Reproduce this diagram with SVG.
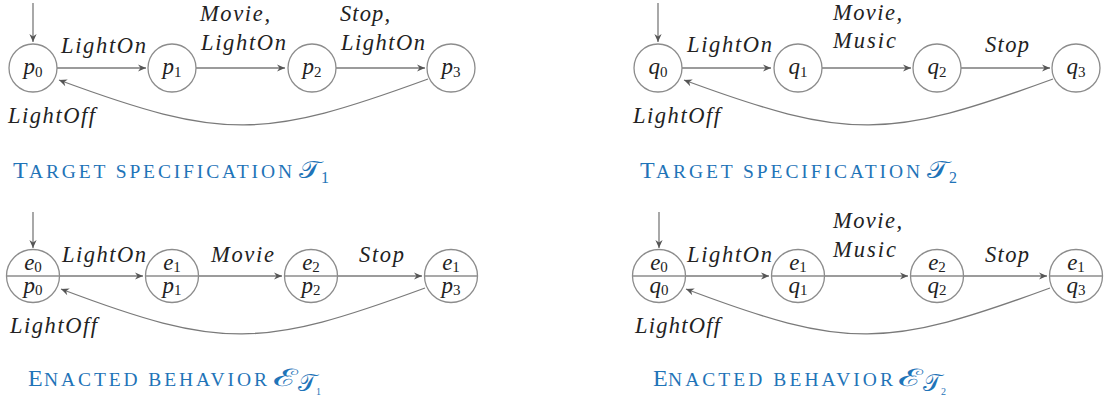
<svg xmlns="http://www.w3.org/2000/svg" width="1109" height="401" viewBox="0 0 1109 401">
<style>
.bg{fill:#ffffff}
.node{fill:#ffffff;stroke:#8c8c8c;stroke-width:1.3}
.div{stroke:#8c8c8c;stroke-width:1.3}
.edge{fill:none;stroke:#7a7a7a;stroke-width:1.3}
.lbl{font-family:"Liberation Serif",serif;font-style:italic;font-size:22.5px;fill:#222222}
.st{font-family:"Liberation Serif",serif;font-style:italic;font-size:23px;fill:#222222}
.sub{font-style:normal;font-size:15px}
.title{font-family:"Liberation Serif",serif;fill:#1f74b8}
.big{font-size:24px}
.sc{font-size:19.5px}
.scr{font-family:"Liberation Serif",serif;font-size:24px;fill:#1f74b8}
</style>
<defs>
<marker id="arr" viewBox="-10 -5 12 10" refX="0" refY="0" markerWidth="12" markerHeight="10" markerUnits="userSpaceOnUse" orient="auto">
<path d="M0,0 L-8,-3.6 L-5.5,0 L-8,3.6 Z" fill="#555555"/>
</marker>
</defs>
<rect class="bg" x="0" y="0" width="1109" height="401"/>

<g id="connectors">
<path class="edge" d="M33,3 L33,42" marker-end="url(#arr)"/>
<path class="edge" d="M57,68 L146,68" marker-end="url(#arr)"/>
<path class="edge" d="M196,68 L285,68" marker-end="url(#arr)"/>
<path class="edge" d="M336,68 L425,68" marker-end="url(#arr)"/>
<path class="edge" d="M428,79 C264,139 224,141 59,80" marker-end="url(#arr)"/>
<path class="edge" d="M658,3 L658,42" marker-end="url(#arr)"/>
<path class="edge" d="M682,68 L771,68" marker-end="url(#arr)"/>
<path class="edge" d="M822,68 L911,68" marker-end="url(#arr)"/>
<path class="edge" d="M961,68 L1050,68" marker-end="url(#arr)"/>
<path class="edge" d="M1053,79 C889,139 849,141 684,80" marker-end="url(#arr)"/>
<path class="edge" d="M33,212 L33,248" marker-end="url(#arr)"/>
<path class="edge" d="M60,276 L143,276" marker-end="url(#arr)"/>
<path class="edge" d="M199,276 L282,276" marker-end="url(#arr)"/>
<path class="edge" d="M338,276 L422,276" marker-end="url(#arr)"/>
<path class="edge" d="M425,288 C262,348 222,350 61,289" marker-end="url(#arr)"/>
<path class="edge" d="M659,212 L659,248" marker-end="url(#arr)"/>
<path class="edge" d="M686,276 L769,276" marker-end="url(#arr)"/>
<path class="edge" d="M825,276 L908,276" marker-end="url(#arr)"/>
<path class="edge" d="M964,276 L1047,276" marker-end="url(#arr)"/>
<path class="edge" d="M1050,288 C887,348 847,350 686,289" marker-end="url(#arr)"/>
</g>

<g id="edge-labels">
<text class="lbl" x="61" y="53" textLength="85" lengthAdjust="spacing">LightOn</text>
<text class="lbl" x="200" y="21" textLength="70" lengthAdjust="spacing">Movie,</text>
<text class="lbl" x="201" y="50" textLength="85" lengthAdjust="spacing">LightOn</text>
<text class="lbl" x="340" y="21" textLength="50" lengthAdjust="spacing">Stop,</text>
<text class="lbl" x="341" y="50" textLength="84" lengthAdjust="spacing">LightOn</text>
<text class="lbl" x="8" y="123" textLength="87" lengthAdjust="spacing">LightOff</text>

<text class="lbl" x="687" y="52" textLength="85" lengthAdjust="spacing">LightOn</text>
<text class="lbl" x="833" y="20" textLength="69" lengthAdjust="spacing">Movie,</text>
<text class="lbl" x="833" y="48" textLength="63" lengthAdjust="spacing">Music</text>
<text class="lbl" x="985" y="52" textLength="44" lengthAdjust="spacing">Stop</text>
<text class="lbl" x="633" y="123" textLength="87" lengthAdjust="spacing">LightOff</text>

<text class="lbl" x="62" y="262" textLength="84" lengthAdjust="spacing">LightOn</text>
<text class="lbl" x="211" y="262" textLength="63" lengthAdjust="spacing">Movie</text>
<text class="lbl" x="359" y="262" textLength="45" lengthAdjust="spacing">Stop</text>
<text class="lbl" x="10" y="333" textLength="87" lengthAdjust="spacing">LightOff</text>

<text class="lbl" x="687" y="262" textLength="85" lengthAdjust="spacing">LightOn</text>
<text class="lbl" x="833" y="228" textLength="69" lengthAdjust="spacing">Movie,</text>
<text class="lbl" x="833" y="257" textLength="63" lengthAdjust="spacing">Music</text>
<text class="lbl" x="985" y="262" textLength="44" lengthAdjust="spacing">Stop</text>
<text class="lbl" x="635" y="333" textLength="85" lengthAdjust="spacing">LightOff</text>
</g>

<g id="p0"><circle class="node" cx="33" cy="68" r="24"/><text class="st" x="33" y="74" text-anchor="middle">p<tspan class="sub" dy="3">0</tspan></text></g>
<g id="p1"><circle class="node" cx="172" cy="68" r="24"/><text class="st" x="172" y="74" text-anchor="middle">p<tspan class="sub" dy="3">1</tspan></text></g>
<g id="p2"><circle class="node" cx="312" cy="68" r="24"/><text class="st" x="312" y="74" text-anchor="middle">p<tspan class="sub" dy="3">2</tspan></text></g>
<g id="p3"><circle class="node" cx="451" cy="68" r="24"/><text class="st" x="451" y="74" text-anchor="middle">p<tspan class="sub" dy="3">3</tspan></text></g>

<g id="q0"><circle class="node" cx="658" cy="68" r="24"/><text class="st" x="658" y="74" text-anchor="middle">q<tspan class="sub" dy="3">0</tspan></text></g>
<g id="q1"><circle class="node" cx="798" cy="68" r="24"/><text class="st" x="798" y="74" text-anchor="middle">q<tspan class="sub" dy="3">1</tspan></text></g>
<g id="q2"><circle class="node" cx="937" cy="68" r="24"/><text class="st" x="937" y="74" text-anchor="middle">q<tspan class="sub" dy="3">2</tspan></text></g>
<g id="q3"><circle class="node" cx="1076" cy="68" r="24"/><text class="st" x="1076" y="74" text-anchor="middle">q<tspan class="sub" dy="3">3</tspan></text></g>

<g id="e0p0"><circle class="node" cx="33" cy="276" r="26.5"/><line class="div" x1="6.5" y1="276" x2="59.5" y2="276"/><text class="st" x="33" y="270" text-anchor="middle">e<tspan class="sub" dy="2">0</tspan></text><text class="st" x="33" y="293" text-anchor="middle">p<tspan class="sub" dy="2">0</tspan></text></g>
<g id="e1p1"><circle class="node" cx="172" cy="276" r="26.5"/><line class="div" x1="145.5" y1="276" x2="198.5" y2="276"/><text class="st" x="172" y="270" text-anchor="middle">e<tspan class="sub" dy="2">1</tspan></text><text class="st" x="172" y="293" text-anchor="middle">p<tspan class="sub" dy="2">1</tspan></text></g>
<g id="e2p2"><circle class="node" cx="311" cy="276" r="26.5"/><line class="div" x1="284.5" y1="276" x2="337.5" y2="276"/><text class="st" x="311" y="270" text-anchor="middle">e<tspan class="sub" dy="2">2</tspan></text><text class="st" x="311" y="293" text-anchor="middle">p<tspan class="sub" dy="2">2</tspan></text></g>
<g id="e1p3"><circle class="node" cx="451" cy="276" r="26.5"/><line class="div" x1="424.5" y1="276" x2="477.5" y2="276"/><text class="st" x="451" y="270" text-anchor="middle">e<tspan class="sub" dy="2">1</tspan></text><text class="st" x="451" y="293" text-anchor="middle">p<tspan class="sub" dy="2">3</tspan></text></g>

<g id="e0q0"><circle class="node" cx="659" cy="276" r="26.5"/><line class="div" x1="632.5" y1="276" x2="685.5" y2="276"/><text class="st" x="659" y="270" text-anchor="middle">e<tspan class="sub" dy="2">0</tspan></text><text class="st" x="659" y="293" text-anchor="middle">q<tspan class="sub" dy="2">0</tspan></text></g>
<g id="e1q1"><circle class="node" cx="798" cy="276" r="26.5"/><line class="div" x1="771.5" y1="276" x2="824.5" y2="276"/><text class="st" x="798" y="270" text-anchor="middle">e<tspan class="sub" dy="2">1</tspan></text><text class="st" x="798" y="293" text-anchor="middle">q<tspan class="sub" dy="2">1</tspan></text></g>
<g id="e2q2"><circle class="node" cx="937" cy="276" r="26.5"/><line class="div" x1="910.5" y1="276" x2="963.5" y2="276"/><text class="st" x="937" y="270" text-anchor="middle">e<tspan class="sub" dy="2">2</tspan></text><text class="st" x="937" y="293" text-anchor="middle">q<tspan class="sub" dy="2">2</tspan></text></g>
<g id="e1q3"><circle class="node" cx="1076" cy="276" r="26.5"/><line class="div" x1="1049.5" y1="276" x2="1102.5" y2="276"/><text class="st" x="1076" y="270" text-anchor="middle">e<tspan class="sub" dy="2">1</tspan></text><text class="st" x="1076" y="293" text-anchor="middle">q<tspan class="sub" dy="2">3</tspan></text></g>

<g id="titles">
<text class="title big" x="13" y="178">T</text>
<text class="title sc" x="29" y="178" textLength="263" lengthAdjust="spacing">ARGET SPECIFICATION</text>
<text class="scr" x="299" y="178" textLength="21" lengthAdjust="spacingAndGlyphs">𝒯</text>
<text class="title" x="321" y="183" font-size="16">1</text>

<text class="title big" x="640" y="178">T</text>
<text class="title sc" x="656" y="178" textLength="264" lengthAdjust="spacing">ARGET SPECIFICATION</text>
<text class="scr" x="927" y="178" textLength="21" lengthAdjust="spacingAndGlyphs">𝒯</text>
<text class="title" x="949" y="183" font-size="16">2</text>

<text class="title big" x="28" y="386">E</text>
<text class="title sc" x="44" y="386" textLength="223" lengthAdjust="spacing">NACTED BEHAVIOR</text>
<text class="scr" x="273" y="386" textLength="24" lengthAdjust="spacingAndGlyphs">ℰ</text>
<text class="scr" x="298" y="391" font-size="14">𝒯<tspan class="title" font-size="10" dy="4">1</tspan></text>

<text class="title big" x="653" y="386">E</text>
<text class="title sc" x="668" y="386" textLength="225" lengthAdjust="spacing">NACTED BEHAVIOR</text>
<text class="scr" x="898" y="386" textLength="24" lengthAdjust="spacingAndGlyphs">ℰ</text>
<text class="scr" x="923" y="391" font-size="14">𝒯<tspan class="title" font-size="10" dy="4">2</tspan></text>
</g>
</svg>
